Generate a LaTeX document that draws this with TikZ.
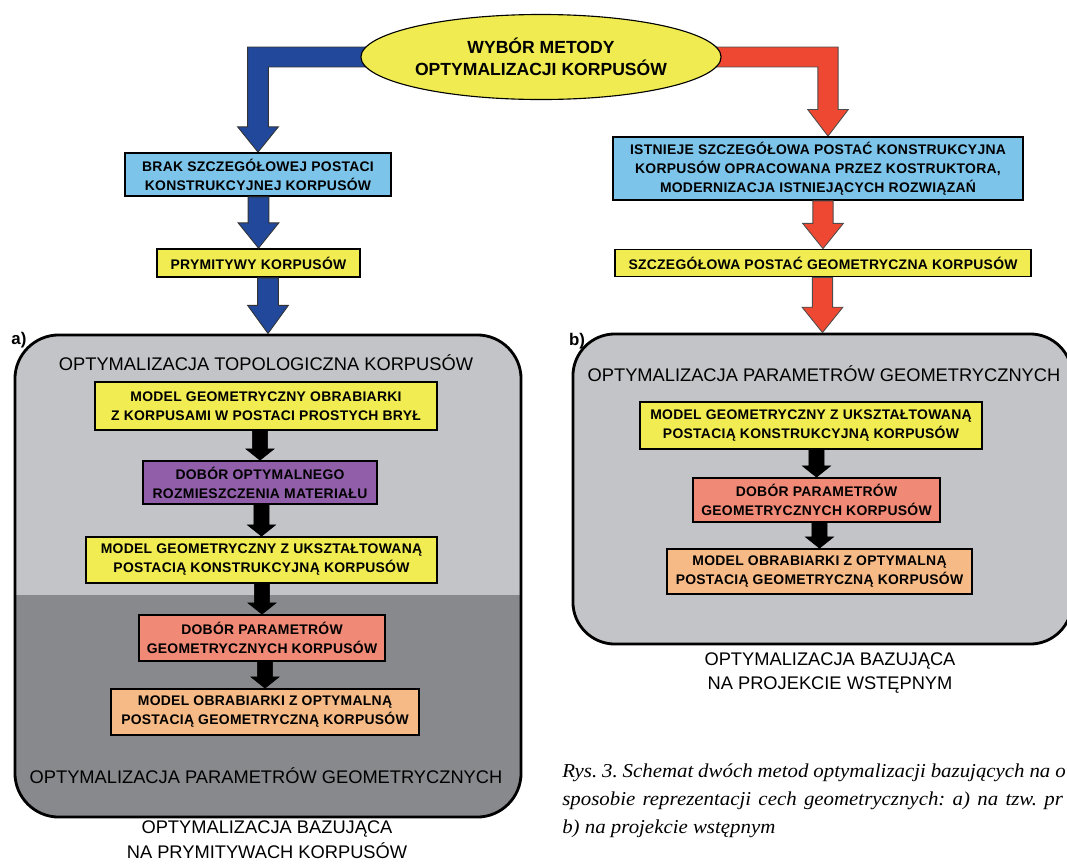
\documentclass[tikz,border=0pt]{standalone}
\usepackage{fontspec}
\newfontfamily\boxfont[LetterSpace=2.0]{Liberation Sans}
\newfontfamily\headfont{Liberation Sans}
\newfontfamily\capfont[FakeStretch=1.06]{Liberation Serif}
\usetikzlibrary{calc,shapes.geometric}
\pgfdeclarelayer{background}
\pgfsetlayers{background,main}

\definecolor{choiceyellow}{RGB}{240,235,80}
\definecolor{boxyellow}{RGB}{240,236,82}
\definecolor{boxblue}{RGB}{125,196,235}
\definecolor{boxpurple}{RGB}{145,95,170}
\definecolor{boxsalmon}{RGB}{240,138,118}
\definecolor{boxorange}{RGB}{246,186,135}
\definecolor{arrowblue}{RGB}{33,72,155}
\definecolor{arrowred}{RGB}{238,72,50}
\definecolor{panellight}{RGB}{195,196,199}
\definecolor{paneldark}{RGB}{136,137,141}

\tikzset{
  arrowshaft/.code={\def\shw{#1}},
  arrowhead/.code={\def\hdw{#1}},
  arrowlen/.code={\def\hdl{#1}},
  bluearrow/.style={fill=arrowblue,draw=black!80,line width=0.6pt,arrowshaft=7.4pt,arrowhead=14.5pt,arrowlen=18pt},
  redarrow/.style={fill=arrowred,draw=black!70,line width=0.6pt,arrowshaft=7.2pt,arrowhead=14.5pt,arrowlen=18pt},
  blackarrow/.style={fill=black,draw=black,line width=0.4pt,arrowshaft=5.4pt,arrowhead=10pt,arrowlen=8pt},
  choice/.style={ellipse,draw=black,line width=0.8pt,fill=choiceyellow,minimum width=9cm,minimum height=2.125cm,
    inner sep=0pt,align=center,font=\headfont\bfseries\fontsize{12.5}{16}\selectfont},
  flowbox/.style={draw=black,line width=1.2pt,inner sep=0pt,align=center,
    font=\boxfont\bfseries\fontsize{9.9}{13.5}\selectfont},
  panel/.style={draw=black,line width=2pt,fill=panellight,rounded corners=1.1cm,inner sep=0pt},
  paneltitle/.style={inner sep=0pt,align=center,font=\headfont\fontsize{13}{17.7}\selectfont},
  tag/.style={inner sep=0pt,font=\headfont\bfseries\fontsize{12}{14}\selectfont},
  capline/.style={inner sep=0pt,anchor=base west,font=\capfont\itshape\fontsize{14}{16}\selectfont\frenchspacing}
}

% straight fat arrow from the bottom of one node to the top of the next
\newcommand{\fatarrow}[3]{%
  \draw[#1] let \p1=(#2), \p2=(#3) in
    (\x2-\shw,\y1) -- (\x2-\shw,\y2+\hdl) -- (\x2-\hdw,\y2+\hdl) -- (\x2,\y2)
    -- (\x2+\hdw,\y2+\hdl) -- (\x2+\shw,\y2+\hdl) -- (\x2+\shw,\y1) -- cycle;}

\begin{document}
\begin{tikzpicture}[x=0.025cm,y=-0.025cm]
\useasboundingbox (0,0) rectangle (1067,863);
\clip (0,0) rectangle (1067,863);

\node[choice] (choice) at (541,57) {WYBÓR METODY\\OPTYMALIZACJI KORPUSÓW};

% left branch
\node[flowbox,fill=boxblue,minimum width=6.65cm,minimum height=1.075cm] (brak) at (258,174.5)
  {BRAK SZCZEGÓŁOWEJ POSTACI\\KONSTRUKCYJNEJ KORPUSÓW};
\node[flowbox,fill=boxyellow,minimum width=5.075cm,minimum height=0.7cm] (prym) at (258.5,263)
  {PRYMITYWY KORPUSÓW};
\node[panel,minimum width=12.65cm,minimum height=12.05cm,
  path picture={\fill[paneldark,sharp corners] ([yshift=5.55cm]path picture bounding box.south west)
    rectangle (path picture bounding box.south east);}] (pa) at (268,576) {};
\node[tag] (taga) at (19,340) {a)};
\node[paneltitle] (topa) at (266,363) {OPTYMALIZACJA TOPOLOGICZNA KORPUSÓW};
\node[flowbox,fill=boxyellow,minimum width=8.55cm,minimum height=1.2cm] (geoa) at (266,406)
  {MODEL GEOMETRYCZNY OBRABIARKI\\Z KORPUSAMI W POSTACI PROSTYCH BRYŁ};
\node[flowbox,fill=boxpurple,minimum width=5.85cm,minimum height=1.075cm] (mat) at (260,482.5)
  {DOBÓR OPTYMALNEGO\\ROZMIESZCZENIA MATERIAŁU};
\node[flowbox,fill=boxyellow,minimum width=8.775cm,minimum height=1.15cm] (ksza) at (261.5,560)
  {MODEL GEOMETRYCZNY Z UKSZTAŁTOWANĄ\\POSTACIĄ KONSTRUKCYJNĄ KORPUSÓW};
\node[flowbox,fill=boxsalmon,minimum width=6.15cm,minimum height=1.15cm] (para) at (262,638)
  {DOBÓR PARAMETRÓW\\GEOMETRYCZNYCH KORPUSÓW};
\node[flowbox,fill=boxorange,minimum width=7.7cm,minimum height=1.15cm] (obra) at (265,712)
  {MODEL OBRABIARKI Z OPTYMALNĄ\\POSTACIĄ GEOMETRYCZNĄ KORPUSÓW};
\node[paneltitle] (bota) at (266,776) {OPTYMALIZACJA PARAMETRÓW GEOMETRYCZNYCH};
\node[paneltitle] (capa) at (267,840) {OPTYMALIZACJA BAZUJĄCA\\NA PRYMITYWACH KORPUSÓW};

% right branch
\node[flowbox,fill=boxblue,minimum width=10.25cm,minimum height=1.575cm] (ist) at (818,168.5)
  {ISTNIEJE SZCZEGÓŁOWA POSTAĆ KONSTRUKCYJNA\\KORPUSÓW OPRACOWANA PRZEZ KOSTRUKTORA,\\MODERNIZACJA ISTNIEJĄCYCH ROZWIĄZAŃ};
\node[flowbox,fill=boxyellow,minimum width=10.4cm,minimum height=0.675cm] (szc) at (823,263)
  {SZCZEGÓŁOWA POSTAĆ GEOMETRYCZNA KORPUSÓW};
\node[panel,minimum width=12.475cm,minimum height=7.75cm,rounded corners=1.05cm] (pb) at (822.5,489) {};
\node[tag] (tagb) at (577,341) {b)};
\node[paneltitle] (topb) at (824,374) {OPTYMALIZACJA PARAMETRÓW GEOMETRYCZNYCH};
\node[flowbox,fill=boxyellow,minimum width=8.55cm,minimum height=1.175cm] (kszb) at (811,425.5)
  {MODEL GEOMETRYCZNY Z UKSZTAŁTOWANĄ\\POSTACIĄ KONSTRUKCYJNĄ KORPUSÓW};
\node[flowbox,fill=boxsalmon,minimum width=6.175cm,minimum height=1.1cm] (parb) at (816.5,500)
  {DOBÓR PARAMETRÓW\\GEOMETRYCZNYCH KORPUSÓW};
\node[flowbox,fill=boxorange,minimum width=7.625cm,minimum height=1.125cm] (obrb) at (819.5,571.5)
  {MODEL OBRABIARKI Z OPTYMALNĄ\\POSTACIĄ GEOMETRYCZNĄ KORPUSÓW};
\node[paneltitle] (capb) at (830,673) {OPTYMALIZACJA BAZUJĄCA\\NA PROJEKCIE WSTĘPNYM};

% figure caption
\node[capline] (rys1) at (562,777) {\makebox[358pt][s]{Rys. 3. Schemat dwóch metod optymalizacji bazujących na o}};
\node[capline] (rys2) at (562,805) {\makebox[356pt][s]{sposobie reprezentacji cech geometrycznych: a) na tzw. pr}};
\node[capline] (rys3) at (562,833) {b) na projekcie wstępnym};

% bent arrows out of the ellipse
\begin{pgfonlayer}{background}
\draw[bluearrow] let \p1=(choice.center), \p2=(brak.north) in
  (\x1,\y1+7.1pt) -- (\x2-\shw,\y1+7.1pt) -- (\x2-\shw,\y2+\hdl) -- (\x2-\hdw,\y2+\hdl) -- (\x2,\y2)
  -- (\x2+\hdw,\y2+\hdl) -- (\x2+\shw,\y2+\hdl) -- (\x2+\shw,\y1-7.1pt) -- (\x1,\y1-7.1pt) -- cycle;
\draw[redarrow,arrowlen=19pt] let \p1=(choice.center), \p2=([xshift=0.25cm]ist.north) in
  (\x1,\y1+7.1pt) -- (\x2+\shw,\y1+7.1pt) -- (\x2+\shw,\y2+\hdl) -- (\x2+\hdw,\y2+\hdl) -- (\x2,\y2)
  -- (\x2-\hdw,\y2+\hdl) -- (\x2-\shw,\y2+\hdl) -- (\x2-\shw,\y1-7.1pt) -- (\x1,\y1-7.1pt) -- cycle;
\end{pgfonlayer}

\fatarrow{bluearrow}{brak.south}{prym.north}
\fatarrow{bluearrow,arrowlen=20pt}{prym.south}{pa.north}
\fatarrow{redarrow}{ist.south}{szc.north}
\fatarrow{redarrow}{szc.south}{pb.north}

\fatarrow{blackarrow}{geoa.south}{mat.north}
\fatarrow{blackarrow}{mat.south}{ksza.north}
\fatarrow{blackarrow}{ksza.south}{para.north}
\fatarrow{blackarrow}{para.south}{obra.north}
\fatarrow{blackarrow}{kszb.south}{parb.north}
\fatarrow{blackarrow}{parb.south}{obrb.north}
\end{tikzpicture}
\end{document}
